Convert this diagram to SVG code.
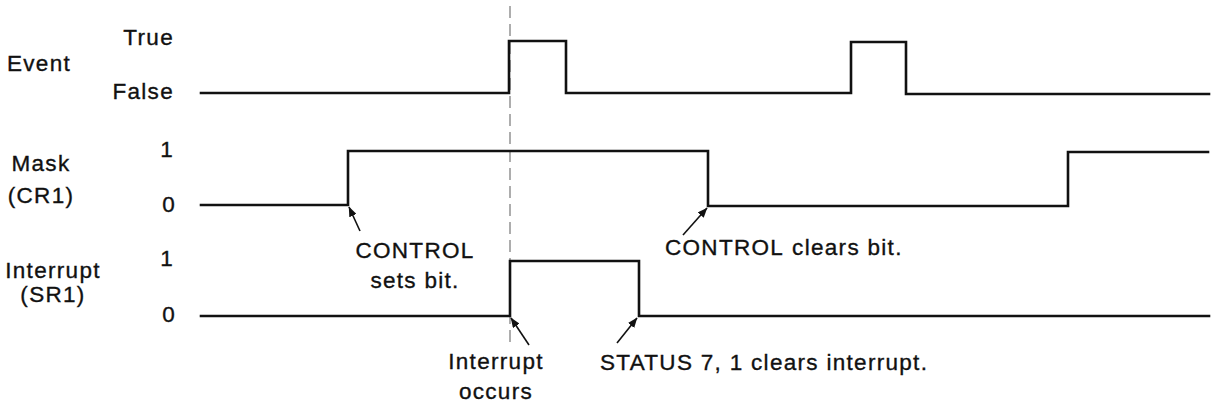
<svg xmlns="http://www.w3.org/2000/svg" width="1213" height="408" viewBox="0 0 1213 408">
  <defs>
    <style>
      text { font-family: "Liberation Sans", Arial, sans-serif; font-size: 22.5px; fill: #111; stroke: #111; stroke-width: 0.35; letter-spacing: 1.3px; }
      .lvl { text-anchor: end; }
      .mid { text-anchor: middle; }
      .wave { fill: none; stroke: #111; stroke-width: 2.6; stroke-linejoin: miter; stroke-linecap: square; }
      .ptr { fill: none; stroke: #111; stroke-width: 1.6; marker-end: url(#tip); }
      .marker-line { stroke: #777; stroke-width: 1.2; stroke-dasharray: 12 6; }
    </style>
    <marker id="tip" viewBox="0 0 10 8" refX="9.5" refY="4" markerWidth="10" markerHeight="8" markerUnits="userSpaceOnUse" orient="auto">
      <path d="M0,0 L10,4 L0,8 Z" fill="#111"/>
    </marker>
  </defs>

  <rect width="1213" height="408" fill="#fff"/>

  <!-- time reference where the interrupt fires -->
  <line class="marker-line" x1="510" y1="6" x2="510" y2="345"/>

  <!-- Event signal -->
  <g id="event">
    <text x="7" y="71">Event</text>
    <text class="lvl" x="174" y="45">True</text>
    <text class="lvl" x="174" y="99">False</text>
    <path class="wave" d="M201,93 H509 V41 H566 V93 H851 V42 H906 V94 H1209"/>
  </g>

  <!-- Mask (CR1) signal -->
  <g id="mask">
    <text class="mid" x="41" y="171">Mask</text>
    <text class="mid" x="41" y="203">(CR1)</text>
    <text class="lvl" x="174" y="157">1</text>
    <text class="lvl" x="176" y="212">0</text>
    <path class="wave" d="M201,205 H348 V151 H708 V206 H1068 V152 H1208"/>
  </g>

  <!-- Interrupt (SR1) signal -->
  <g id="interrupt">
    <text class="mid" x="53" y="278">Interrupt</text>
    <text class="mid" x="53" y="302">(SR1)</text>
    <text class="lvl" x="174" y="266">1</text>
    <text class="lvl" x="176" y="322">0</text>
    <path class="wave" d="M201,316 H510 V261 H639 V316 H1209"/>
  </g>

  <!-- annotations -->
  <g id="note-sets">
    <text class="mid" x="415" y="258">CONTROL</text>
    <text class="mid" x="415" y="288">sets bit.</text>
  </g>
  <g id="note-clears">
    <text x="665" y="255">CONTROL<tspan dx="8">clears bit.</tspan></text>
  </g>
  <g id="note-occurs">
    <text class="mid" x="496" y="369">Interrupt</text>
    <text class="mid" x="496" y="399">occurs</text>
  </g>
  <g id="note-status">
    <text x="600" y="370">STATUS 7, 1 clears interrupt.</text>
  </g>

  <!-- pointers from the notes to the edges -->
  <g id="connectors">
    <line class="ptr" x1="360" y1="231" x2="349" y2="207"/>
    <line class="ptr" x1="683" y1="235" x2="707" y2="208"/>
    <line class="ptr" x1="529" y1="345" x2="511" y2="318"/>
    <line class="ptr" x1="617" y1="343" x2="637" y2="318"/>
  </g>
</svg>
